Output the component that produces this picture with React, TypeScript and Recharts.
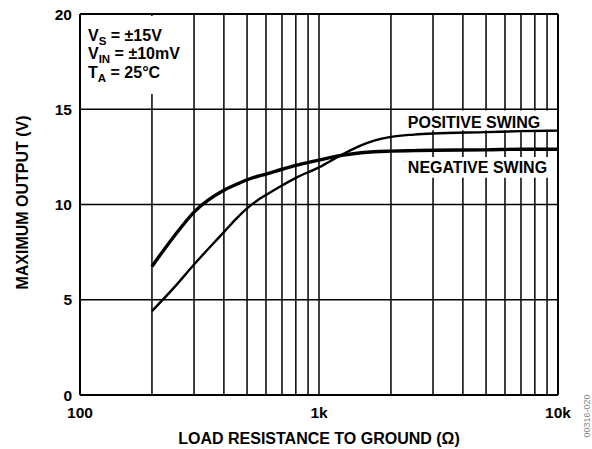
import React from "react";
import { LineChart, Line, XAxis, YAxis, ReferenceLine, ReferenceArea } from "recharts";

// load resistance (ohms) and the two output swing curves (V)
const resistance = [200, 250, 300, 400, 450, 500, 550, 600, 700, 800, 1000, 1200, 1500, 1700, 2000, 2500, 3000, 5000, 7000, 10000];
const positiveSwing = [4.4, 5.7, 6.85, 8.55, 9.25, 9.8, 10.2, 10.5, 11.0, 11.4, 11.95, 12.5, 13.1, 13.35, 13.55, 13.67, 13.73, 13.8, 13.85, 13.88];
const negativeSwing = [6.75, 8.4, 9.6, 10.75, 11.05, 11.3, 11.47, 11.6, 11.85, 12.05, 12.33, 12.55, 12.72, 12.77, 12.8, 12.83, 12.85, 12.87, 12.9, 12.9];

const xTicks = [100, 1000, 10000];
const xTickLabels = ["100", "1k", "10k"];
const yTicks = [0, 5, 10, 15, 20];
const xGrid = [200, 300, 400, 500, 600, 700, 800, 900, 1000, 2000, 3000, 4000, 5000, 6000, 7000, 8000, 9000];
const yGrid = [5, 10, 15];

const data = resistance.map((r, i) => ({ r, pos: positiveSwing[i], neg: negativeSwing[i] }));

const FONT = "'Liberation Sans', Arial, Helvetica, sans-serif";
const tickStyle = { fill: "#000", fontSize: 15.5, fontWeight: "bold", fontFamily: FONT };
const textProps = { fill: "#000", fontSize: 16, fontWeight: "bold", fontFamily: FONT };

const formatX = (v: number) => xTickLabels[xTicks.indexOf(v)] ?? String(v);

const Conditions = ({ viewBox }: any) => {
  const { x, y } = viewBox;
  const lines = [
    ["V", "S", " = ±15V"],
    ["V", "IN", " = ±10mV"],
    ["T", "A", " = 25°C"],
  ];
  return (
    <g>
      {lines.map((l, i) => (
        <text key={i} x={x + 8} y={y + 25 + i * 18.5} {...textProps}>
          <tspan>{l[0]}</tspan>
          <tspan dy={4} fontSize={11.5}>{l[1]}</tspan>
          <tspan dy={-4}>{l[2]}</tspan>
        </text>
      ))}
    </g>
  );
};

const PosLabel = ({ viewBox }: any) => (
  <text x={viewBox.x + 7} y={viewBox.y + 17} {...textProps}>POSITIVE SWING</text>
);

const NegLabel = ({ viewBox }: any) => (
  <text x={viewBox.x + 7} y={viewBox.y + 16.5} {...textProps}>NEGATIVE SWING</text>
);

const XTitle = ({ viewBox }: any) => (
  <text x={viewBox.x + viewBox.width / 2} y={viewBox.y + 49} textAnchor="middle" {...textProps}>
    LOAD RESISTANCE TO GROUND (Ω)
  </text>
);

const YTitle = ({ viewBox }: any) => {
  const cx = viewBox.x + 28;
  const cy = viewBox.y + viewBox.height / 2 - 2;
  return (
    <text x={cx} y={cy} textAnchor="middle" transform={`rotate(-90 ${cx} ${cy})`} {...textProps}>
      MAXIMUM OUTPUT (V)
    </text>
  );
};

export default function App() {
  return (
    <div style={{ position: "absolute", left: 0, top: 0, background: "#fff" }}>
      <LineChart width={592} height={449} data={data} margin={{ top: 14, right: 34, bottom: 0, left: 0 }}>
        <XAxis
          dataKey="r"
          type="number"
          scale="log"
          domain={[100, 10000]}
          ticks={xTicks}
          tickFormatter={formatX}
          allowDataOverflow
          tickLine={false}
          tickMargin={6}
          axisLine={{ stroke: "#000", strokeWidth: 2 }}
          tick={tickStyle}
          height={54}
          label={XTitle}
        />
        <YAxis
          type="number"
          domain={[0, 20]}
          ticks={yTicks}
          tickLine={false}
          axisLine={{ stroke: "#000", strokeWidth: 2 }}
          tick={tickStyle}
          width={80}
          label={YTitle}
        />
        {xGrid.map((v) => (
          <ReferenceLine key={"x" + v} x={v} stroke="#000" strokeWidth={1.5} zIndex={-50} />
        ))}
        {yGrid.map((v) => (
          <ReferenceLine key={"y" + v} y={v} stroke="#000" strokeWidth={1.5} zIndex={-50} />
        ))}
        <ReferenceArea x1={100} x2={270} y1={15.8} y2={19.9} fill="#fff" fillOpacity={1} stroke="none" zIndex={50} label={Conditions} />
        <ReferenceArea x1={2200} x2={9500} y1={13.9} y2={14.93} fill="#fff" fillOpacity={1} stroke="none" zIndex={50} label={PosLabel} />
        <ReferenceArea x1={2200} x2={9700} y1={11.4} y2={12.5} fill="#fff" fillOpacity={1} stroke="none" zIndex={50} label={NegLabel} />
        <ReferenceLine y={20} stroke="#000" strokeWidth={2} zIndex={150} />
        <ReferenceLine x={10000} stroke="#000" strokeWidth={2} zIndex={150} />
        <Line dataKey="pos" type="monotone" stroke="#000" strokeWidth={2.4} dot={false} isAnimationActive={false} />
        <Line dataKey="neg" type="monotone" stroke="#000" strokeWidth={3.4} dot={false} isAnimationActive={false} />
        <text
          x={590}
          y={416}
          textAnchor="middle"
          transform="rotate(-90 590 416)"
          fill="#888"
          fontSize={9}
          fontFamily={FONT}
        >
          00316-020
        </text>
      </LineChart>
    </div>
  );
}
